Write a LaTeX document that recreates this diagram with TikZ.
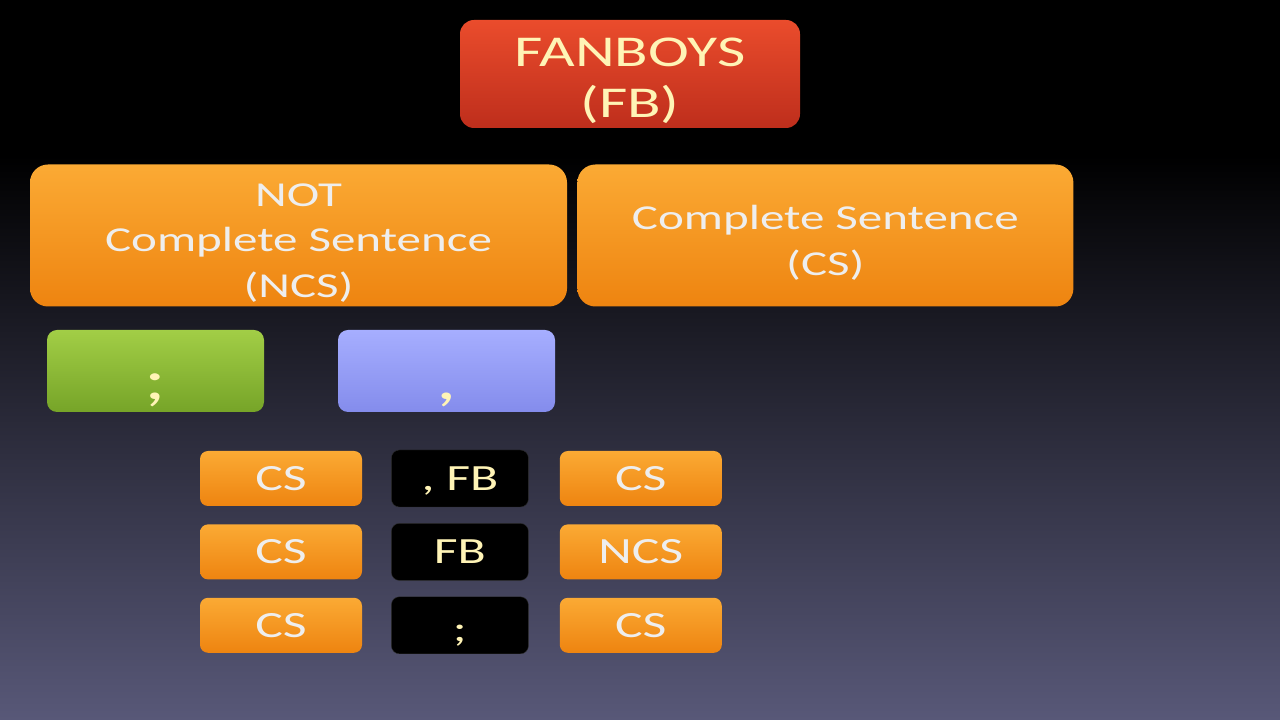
\documentclass[tikz,border=0pt]{standalone}
\usepackage{fontspec}
\usetikzlibrary{positioning}
\newfontfamily\slidefont[FakeStretch=1.4]{Carlito}
\definecolor{fbred}{RGB}{234,76,44}
\definecolor{fbreddark}{RGB}{190,46,28}
\definecolor{csorange}{RGB}{251,170,52}
\definecolor{csorangedark}{RGB}{238,132,16}
\definecolor{semigreen}{RGB}{162,206,70}
\definecolor{semigreendark}{RGB}{118,164,40}
\definecolor{commablue}{RGB}{166,174,255}
\definecolor{commabluedark}{RGB}{132,140,236}
\definecolor{creamtext}{RGB}{255,244,182}
\definecolor{greytext}{RGB}{238,238,238}
\definecolor{bgbottom}{RGB}{88,88,120}

\tikzset{
  redbox/.style={rectangle, rounded corners=14pt, top color=fbred, bottom color=fbreddark,
    text=creamtext, align=center, font=\slidefont\fontsize{44}{51}\selectfont,
    minimum width=340pt, minimum height=108pt},
  bigbox/.style={rectangle, rounded corners=18pt, top color=csorange, bottom color=csorangedark,
    text=greytext, align=center, font=\slidefont\fontsize{35}{45.5}\selectfont,
    minimum height=142pt},
  markbox/.style={rectangle, rounded corners=10pt, text=creamtext, inner sep=4pt,
    font=\slidefont\fontsize{58}{58}\selectfont, minimum width=217pt, minimum height=82pt,
    text depth=0pt, text height=58pt},
  smallbox/.style={rectangle, rounded corners=8pt, top color=csorange, bottom color=csorangedark,
    text=greytext, font=\slidefont\fontsize{37}{37}\selectfont,
    minimum width=162pt, minimum height=55pt},
  fbbox/.style={rectangle, rounded corners=8pt, fill=black, draw=gray!35!black,
    text=creamtext, font=\slidefont\fontsize{37}{37}\selectfont, text depth=0pt,
    minimum width=137pt, minimum height=57pt}
}
% taller first line, pushes the text block down
\newcommand{\lowstrut}[1]{\rule{0pt}{#1}}

\begin{document}
\begin{tikzpicture}[x=1pt, y=1pt]
\useasboundingbox (0,0) rectangle (1280,720);
% background
\fill[black] (0,0) rectangle (1280,720);
\shade[top color=black, bottom color=bgbottom] (0,0) rectangle (1280,565);

% top boxes
\node[redbox] (fanboys) at (630,646) {\lowstrut{43pt}FANBOYS\\(FB)};
\node[bigbox, minimum width=537pt] (ncs) at (298.5,484.5) {\lowstrut{37pt}NOT\\Complete Sentence\\(NCS)};
\node[bigbox, minimum width=496pt, right=10pt of ncs] (cs) {\lowstrut{39pt}Complete Sentence\\(CS)};

% punctuation
\node[markbox, top color=semigreen, bottom color=semigreendark] (semi) at (155.5,349) {;};
\node[markbox, top color=commablue, bottom color=commabluedark] (comma) at (446.5,349) {,};

% patterns
\node[smallbox] (csa) at (281,241.5) {CS};
\node[fbbox, right=29pt of csa] (joina) {, FB};
\node[smallbox, right=31pt of joina] (csb) {CS};

\node[smallbox, below=18pt of csa] (csc) {CS};
\node[fbbox, right=29pt of csc] (joinb) {FB};
\node[smallbox, right=31pt of joinb] (ncsb) {NCS};

\node[smallbox, below=18pt of csc] (csd) {CS};
\node[fbbox, right=29pt of csd, text height=33pt] (joinc) {;};
\node[smallbox, right=31pt of joinc] (cse) {CS};
\end{tikzpicture}
\end{document}
